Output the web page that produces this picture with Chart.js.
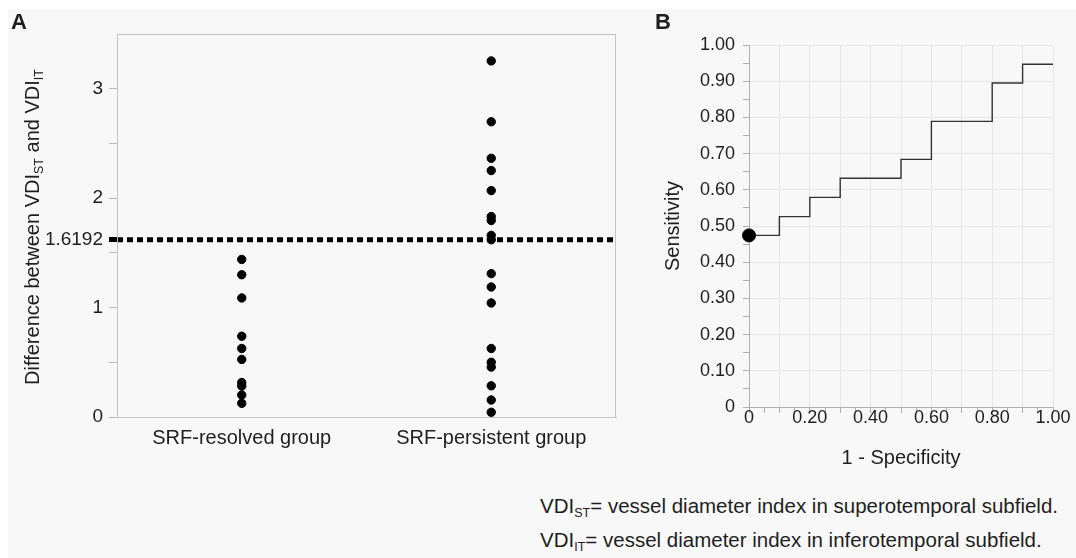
<!DOCTYPE html>
<html>
<head>
<meta charset="utf-8">
<script src="https://cdn.jsdelivr.net/npm/chart.js@4.4.1/dist/chart.umd.min.js"></script>
<style>
  html, body { margin:0; padding:0; background:#ffffff; }
  #page { position:relative; width:1076px; height:558px; overflow:hidden; background:#ffffff; font-family:"Liberation Sans", Arial, sans-serif; color:#1e1e1e; }
  #bg { position:absolute; left:8px; top:9px; right:0; bottom:0; background:#f8f8f8; }
  canvas { position:absolute; }
  #cA { left:0; top:0; }
  #cB { left:640px; top:0; }
  .lbl { position:absolute; font-weight:bold; font-size:22px; line-height:normal; }
  #ytitleA { position:absolute; left:32px; top:227px; transform:translate(-50%,-50%) rotate(-90deg); white-space:nowrap; font-size:20px; }
  sub { font-size:12.5px; vertical-align:-4px; line-height:0; }
  #caps { position:absolute; right:18px; top:494px; display:inline-block; }
  .cap { white-space:nowrap; font-size:20.5px; line-height:24px; height:34px; }
</style>
</head>
<body>
<div id="page">
  <div id="bg"></div>
  <canvas id="cA" width="640" height="460"></canvas>
  <canvas id="cB" width="436" height="480"></canvas>
  <div class="lbl" style="left:11px;top:9px;">A</div>
  <div class="lbl" style="left:655px;top:9px;">B</div>
  <div id="ytitleA">Difference between VDI<sub>ST</sub> and VDI<sub>IT</sub></div>
  <div id="caps">
    <div class="cap">VDI<sub>ST</sub>= vessel diameter index in superotemporal subfield.</div>
    <div class="cap">VDI<sub>IT</sub>= vessel diameter index in inferotemporal subfield.</div>
  </div>
</div>
<script>
// ---------- DATA ----------
const categories = ['SRF-resolved group', 'SRF-persistent group'];
const resolvedValues = [1.44, 1.30, 1.088, 0.738, 0.626, 0.526, 0.315, 0.283, 0.201, 0.125];
const persistentValues = [3.254, 2.698, 2.364, 2.252, 2.069, 1.832, 1.796, 1.66, 1.62, 1.31, 1.188, 1.042, 0.626, 0.50, 0.456, 0.285, 0.155, 0.043];
const cutoff = 1.6192;
const yTicksA = [0, 1, 2, 3];
const yMinorA = [0.5, 1.5, 2.5];

const rocFpr = [0, 0.1, 0.2, 0.3, 0.5, 0.6, 0.8, 0.9, 1.0];
const rocTpr = [0.474, 0.526, 0.579, 0.632, 0.684, 0.789, 0.895, 0.947, 0.947];
const optimalPoint = { x: 0, y: 0.474 };
const xTickLabelsB = ['0', '0.20', '0.40', '0.60', '0.80', '1.00'];
// --------------------------

Chart.defaults.font.family = '"Liberation Sans", Arial, sans-serif';
Chart.defaults.color = '#1e1e1e';
Chart.defaults.animation = false;

const boxPlugin = (color) => ({
  id: 'box',
  afterDraw(chart) {
    const a = chart.chartArea, ctx = chart.ctx;
    ctx.save();
    ctx.strokeStyle = color;
    ctx.lineWidth = 1;
    ctx.strokeRect(a.left + 0.5, a.top + 0.5, a.right - a.left - 1, a.bottom - a.top);
    ctx.restore();
  }
});

// ----- Panel A -----
const ptsResolved = resolvedValues.map(v => ({ x: 0, y: v }));
const ptsPersistent = persistentValues.map(v => ({ x: 1, y: v }));

new Chart(document.getElementById('cA'), {
  type: 'scatter',
  data: {
    datasets: [
      { data: ptsResolved, backgroundColor: '#000', borderColor: '#000', pointRadius: 4.2, order: 0 },
      { data: ptsPersistent, backgroundColor: '#000', borderColor: '#000', pointRadius: 4.2, order: 0 },
      { type: 'line', data: [{ x: -0.5, y: cutoff }, { x: 1.5, y: cutoff }], borderColor: '#000',
        borderWidth: 5, borderDash: [6, 4], borderCapStyle: 'butt', pointRadius: 0, order: 1, clip: false }
    ]
  },
  options: {
    responsive: false,
    devicePixelRatio: 1,
    layout: { padding: { top: 34, right: 24, left: 0, bottom: 0 } },
    plugins: { legend: { display: false }, tooltip: { enabled: false } },
    scales: {
      x: {
        type: 'linear', min: -0.5, max: 1.5,
        afterBuildTicks: s => { s.ticks = categories.map((c, i) => ({ value: i })); },
        afterFit: s => { s.height = 43; },
        ticks: { autoSkip: false, font: { size: 20 }, padding: 9, callback: v => categories[v] },
        grid: { display: true, drawOnChartArea: false, drawTicks: false },
        border: { color: '#b8b8b8' }
      },
      y: {
        min: 0, max: 3.5,
        afterBuildTicks: s => {
          const vals = yTicksA.concat(yMinorA, [cutoff]).sort((a, b) => a - b);
          s.ticks = vals.map(v => ({ value: v }));
        },
        afterFit: s => { s.width = 117; },
        ticks: {
          autoSkip: false, font: { size: 19 }, padding: 6,
          callback: v => (v === cutoff ? String(cutoff) : (yTicksA.includes(v) ? String(v) : ''))
        },
        grid: {
          drawOnChartArea: false, tickLength: 8,
          tickColor: c => (c.tick && c.tick.value === cutoff ? '#000' : '#b8b8b8'),
          tickWidth: c => (c.tick && c.tick.value === cutoff ? 5 : 1)
        },
        border: { color: '#b8b8b8' }
      }
    }
  },
  plugins: [boxPlugin('#c4c4c4')]
});

// ----- Panel B -----
const rocData = rocFpr.map((x, i) => ({ x: x, y: rocTpr[i] }));
const isTenth = v => Math.abs(Math.round(v * 10) - v * 10) < 1e-6;

new Chart(document.getElementById('cB'), {
  type: 'scatter',
  data: {
    datasets: [
      { type: 'scatter', data: [optimalPoint], backgroundColor: '#000', borderColor: '#000', pointRadius: 6.5, clip: false, order: 0 },
      { type: 'line', data: rocData, stepped: 'before', borderColor: '#333', borderWidth: 1.4, pointRadius: 0, fill: false, order: 1 }
    ]
  },
  options: {
    responsive: false,
    devicePixelRatio: 1,
    layout: { padding: { top: 45, right: 23, left: 0, bottom: 0 } },
    plugins: { legend: { display: false }, tooltip: { enabled: false } },
    scales: {
      x: {
        type: 'linear', min: 0, max: 1,
        afterBuildTicks: s => { const t = []; for (let i = 0; i <= 20; i++) t.push({ value: i / 20 }); s.ticks = t; },
        afterFit: s => { s.height = 73; },
        ticks: {
          autoSkip: false, maxRotation: 0, font: { size: 18 }, padding: -6,
          callback: v => { const k = Math.round(v * 10); return (isTenth(v) && k % 2 === 0) ? xTickLabelsB[k / 2] : ''; }
        },
        grid: {
          tickLength: 6,
          color: c => (c.tick && isTenth(c.tick.value) ? '#e6e6e6' : 'rgba(0,0,0,0)'),
          tickColor: '#b0b0b0'
        },
        border: { color: '#b0b0b0' },
        title: { display: true, text: '1 - Specificity', font: { size: 20 }, padding: { top: 0, bottom: 10 } }
      },
      y: {
        min: 0, max: 1,
        afterBuildTicks: s => { const t = []; for (let i = 0; i <= 20; i++) t.push({ value: i / 20 }); s.ticks = t; },
        afterFit: s => { s.width = 109; },
        ticks: {
          autoSkip: false, font: { size: 18 }, padding: 8,
          callback: v => (isTenth(v) ? (v === 0 ? '0' : v.toFixed(2)) : '')
        },
        grid: {
          tickLength: 6,
          color: c => (c.tick && isTenth(c.tick.value) ? '#e6e6e6' : 'rgba(0,0,0,0)'),
          tickColor: '#b0b0b0'
        },
        border: { color: '#b0b0b0' },
        title: { display: true, text: 'Sensitivity', font: { size: 20 }, padding: { top: 21, bottom: 0 } }
      }
    }
  }
});
</script>
</body>
</html>
